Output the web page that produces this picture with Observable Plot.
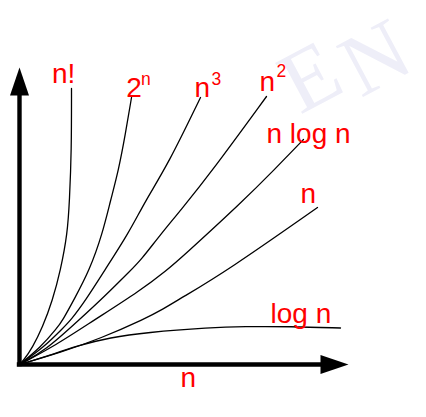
<!DOCTYPE html>
<html>
<head>
<meta charset="utf-8">
<script src="https://cdn.jsdelivr.net/npm/d3@7"></script>
<script src="https://cdn.jsdelivr.net/npm/@observablehq/plot@0.6"></script>
<style>
  html, body { margin: 0; padding: 0; background: #fff; }
</style>
</head>
<body>
<div id="chart"></div>
<script>
// ---- Data (schematic growth curves, arbitrary units) ----
const seriesNames = ["n!", "2^n", "n^3", "n^2", "n log n", "n", "log n"];
const factorialPts = [[0,0],[4,4],[13,17],[23,37],[33,64],[41,94],[48,131],[50,164],[52,214],[52,276]];
const expPts       = [[0,0],[21,17],[38,37],[43,44],[54,64],[70,94],[83,131],[91,164],[99,194],[106,231],[112,267]];
const cubePts      = [[0,0],[24,17],[44,37],[51,44],[66,64],[85,94],[109,131],[126,164],[149,201],[181,267]];
const squarePts    = [[0,0],[26,14],[59,44],[86,69],[111,94],[121,104],[141,130],[161,154],[193,194],[247,268]];
const nlognPts     = [[0,0],[36,19],[74,44],[121,74],[148,95],[161,106],[224,164],[254,194],[284,225]];
const linearPts    = [[0,0],[41,12],[81,26],[126,46],[143,55],[161,66],[208,94],[298,157]];
const logPts       = [[0,0],[24,7],[58,19],[91,27],[126,32],[191,37],[224,38],[271,38],[321,36.5]];

// label texts and their anchor points (data units)
const labelText = ["n!", "2", "n", "n", "n log n", "n", "log n"];
const labelX    = [32.5, 106.7, 175, 240, 247, 281, 251];
const labelY    = [282, 268, 267.3, 273.5, 222, 161.5, 42];
const supText   = ["n", "3", "2"];
const supX      = [121.5, 192, 257];
const supY      = [279.7, 280, 287.3];
const axisTitle = "n";
const axisTitleX = 161, axisTitleY = -22;
const watermarkLetters = ["E", "N"];
const watermarkX = [291, 356];
const watermarkY = [287, 306];

// axis extents
const xMax = 329, yMax = 297;

// ---- Build table ----
const allPts = [factorialPts, expPts, cubePts, squarePts, nlognPts, linearPts, logPts];
const rows = allPts.flatMap((pts, i) => pts.map(([x, y]) => ({series: seriesNames[i], x, y})));
const labels = labelText.map((t, i) => ({text: t, x: labelX[i], y: labelY[i]}));
const sups = supText.map((t, i) => ({text: t, x: supX[i], y: supY[i]}));
const marks = watermarkLetters.map((t, i) => ({text: t, x: watermarkX[i], y: watermarkY[i]}));

const headLen = 28, headHalf = 9.5;
const arrowRight = {draw(ctx) { ctx.moveTo(0, 0); ctx.lineTo(-headLen, -headHalf); ctx.lineTo(-headLen, headHalf); ctx.closePath(); }};
const arrowUp = {draw(ctx) { ctx.moveTo(0, 0); ctx.lineTo(-headHalf, headLen); ctx.lineTo(headHalf, headLen); ctx.closePath(); }};

const font = "Liberation Sans, Arial, sans-serif";

const chart = Plot.plot({
  width: 426,
  height: 417,
  marginLeft: 19,
  marginRight: 78,
  marginTop: 67,
  marginBottom: 53,
  style: {background: "white", overflow: "hidden"},
  x: {domain: [0, xMax], axis: null},
  y: {domain: [0, yMax], axis: null},
  marks: [
    Plot.text(marks, {x: "x", y: "y", text: "text", rotate: -28, fontSize: 88,
      fontFamily: "Liberation Serif, Times New Roman, serif", fill: "#eeeef8", textAnchor: "middle", lineAnchor: "middle"}),
    Plot.line(rows, {x: "x", y: "y", z: "series", curve: "basis", stroke: "black", strokeWidth: 1.3}),
    Plot.ruleY([0], {x1: -2.2, x2: xMax - headLen + 2, stroke: "black", strokeWidth: 4.4}),
    Plot.ruleX([0], {y1: -2.2, y2: yMax - headLen + 2, stroke: "black", strokeWidth: 4.4}),
    Plot.dot([{x: xMax, y: 0}], {x: "x", y: "y", symbol: arrowRight, fill: "black", stroke: "none"}),
    Plot.dot([{x: 0, y: yMax}], {x: "x", y: "y", symbol: arrowUp, fill: "black", stroke: "none"}),
    Plot.text(labels, {x: "x", y: "y", text: "text", fill: "red", fontSize: 28, fontFamily: font,
      textAnchor: "start", lineAnchor: "bottom"}),
    Plot.text(sups, {x: "x", y: "y", text: "text", fill: "red", fontSize: 17.5, fontFamily: font,
      textAnchor: "start", lineAnchor: "bottom"}),
    Plot.text([axisTitle], {x: [axisTitleX], y: [axisTitleY], text: d => d, fill: "red", fontSize: 28,
      fontFamily: font, textAnchor: "start", lineAnchor: "bottom"})
  ]
});
document.getElementById("chart").appendChild(chart);
</script>
</body>
</html>
